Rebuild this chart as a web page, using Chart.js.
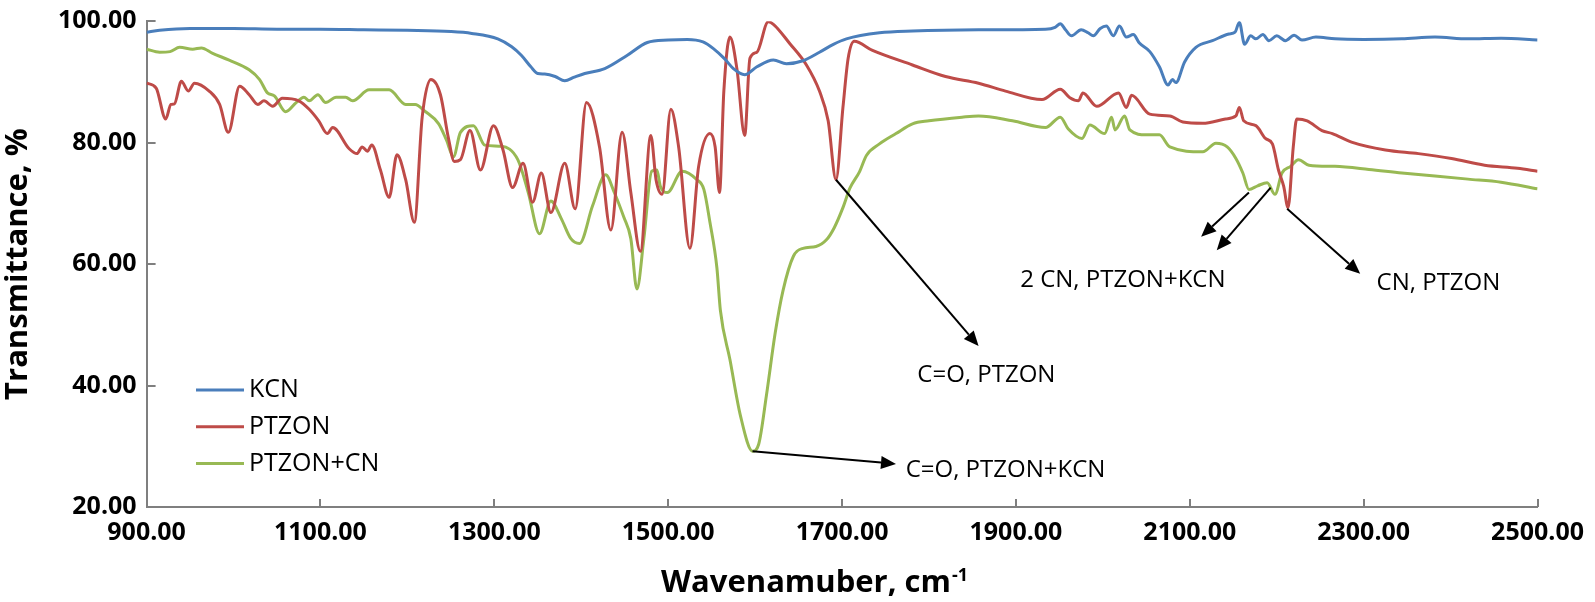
<!DOCTYPE html>
<html>
<head>
<meta charset="utf-8">
<script src="https://cdn.jsdelivr.net/npm/chart.js@4.4.0/dist/chart.umd.min.js"></script>
<style>
  html, body { margin: 0; padding: 0; background: #fff; }
</style>
</head>
<body>
<canvas id="chart" width="1595" height="602"></canvas>
<script>
// axis ticks
const xTicks = [900, 1100, 1300, 1500, 1700, 1900, 2100, 2300, 2500];
const xTickLabels = ['900.00', '1100.00', '1300.00', '1500.00', '1700.00', '1900.00', '2100.00', '2300.00', '2500.00'];
const yTicks = [20, 40, 60, 80, 100];
const yTickLabels = ['20.00', '40.00', '60.00', '80.00', '100.00'];

// KCN
const kcnWave = [900, 915, 950, 1000, 1050, 1100, 1150, 1200, 1250, 1274, 1304, 1320, 1331, 1342, 1350, 1358, 1370, 1381, 1392, 1404,
  1427, 1453, 1476, 1500, 1522, 1540, 1552, 1565, 1575, 1588, 1602, 1621, 1636, 1655, 1674, 1690, 1705, 1743, 1781, 1857,
  1934, 1945, 1951, 1957, 1964, 1975, 1983, 1989, 1997, 2004, 2012, 2019, 2027, 2035, 2042, 2054, 2065, 2075, 2080, 2084,
  2094, 2107, 2126, 2145, 2152, 2157, 2163, 2170, 2176, 2184, 2191, 2200, 2210, 2220, 2229, 2245, 2267, 2300, 2344, 2382,
  2420, 2458, 2500];
const kcnT = [98.2, 98.5, 98.8, 98.8, 98.7, 98.7, 98.6, 98.5, 98.3, 98.0, 97.1, 95.8, 94.4, 92.5, 91.4, 91.3, 90.9, 90.2, 90.8, 91.4,
  92.2, 94.4, 96.5, 96.9, 97.0, 96.6, 95.5, 93.8, 92.2, 91.2, 92.5, 93.6, 93.0, 93.5, 94.9, 96.2, 97.1, 98.1, 98.4, 98.6,
  98.7, 99.0, 99.6, 98.6, 97.6, 98.6, 98.1, 97.6, 98.8, 99.2, 97.6, 99.2, 97.4, 97.8, 96.4, 95.0, 92.5, 89.5, 90.4, 89.9,
  93.3, 95.7, 96.8, 97.9, 98.2, 99.8, 96.2, 97.6, 97.1, 97.8, 96.8, 97.6, 96.8, 97.7, 96.9, 97.4, 97.1, 97.0, 97.1, 97.4,
  97.1, 97.2, 96.9];

// PTZON
const ptzWave = [900, 911, 922, 928, 932, 940, 948, 955, 972, 984, 994, 1007, 1018, 1028, 1035, 1045, 1056, 1075, 1087, 1098,
  1108, 1114, 1133, 1142, 1148, 1154, 1159, 1169, 1179, 1188, 1198, 1208, 1217, 1227, 1238, 1247, 1254, 1261, 1272, 1284,
  1299, 1310, 1321, 1333, 1344, 1354, 1365, 1381, 1393, 1406, 1421, 1434, 1447, 1457, 1468, 1480, 1486, 1493, 1503, 1512,
  1525, 1535, 1548, 1554, 1559, 1564, 1571, 1579, 1588, 1594, 1602, 1615, 1621, 1640, 1659, 1674, 1684, 1693, 1701, 1707,
  1714, 1735, 1781, 1819, 1857, 1888, 1930, 1951, 1962, 1972, 1977, 1993, 2018, 2027, 2033, 2054, 2077, 2092, 2115, 2141,
  2153, 2157, 2162, 2176, 2187, 2195, 2202, 2208, 2213, 2219, 2223, 2235, 2252, 2264, 2286, 2325, 2363, 2401, 2439, 2477,
  2500];
const ptzT = [89.8, 89.0, 83.9, 86.3, 86.4, 90.1, 88.5, 89.8, 88.5, 86.3, 81.7, 89.3, 87.9, 86.3, 86.9, 86.0, 87.3, 86.9, 85.5, 83.6,
  81.5, 82.5, 79.0, 78.2, 79.3, 78.6, 79.6, 75.5, 71.0, 78.0, 73.9, 66.9, 84.2, 90.4, 87.9, 80.9, 76.9, 77.2, 82.0, 75.5,
  82.8, 78.8, 72.6, 76.6, 70.2, 75.0, 68.5, 76.6, 69.1, 86.6, 79.3, 65.6, 81.7, 71.8, 62.1, 81.2, 73.9, 71.5, 85.5, 79.3,
  62.6, 76.1, 81.5, 79.3, 71.8, 88.5, 97.4, 92.2, 81.2, 93.9, 94.9, 99.9, 99.5, 96.3, 92.8, 88.5, 83.6, 73.9, 85.8, 93.9,
  96.7, 95.2, 92.8, 90.9, 89.8, 88.5, 87.1, 88.8, 87.4, 86.9, 88.2, 86.0, 88.2, 85.8, 87.8, 84.7, 84.4, 83.4, 83.2, 83.9,
  84.4, 85.8, 83.6, 82.8, 80.7, 79.8, 75.5, 72.8, 69.3, 79.3, 83.9, 83.6, 82.0, 81.5, 80.1, 78.8, 78.2, 77.4, 76.3, 75.8,
  75.3];

// PTZON+CN
const mixWave = [900, 915, 927, 938, 953, 963, 976, 995, 1018, 1030, 1039, 1047, 1060, 1072, 1081, 1087, 1097, 1106, 1118, 1129,
  1137, 1156, 1179, 1198, 1209, 1220, 1236, 1245, 1253, 1261, 1276, 1289, 1308, 1327, 1339, 1352, 1365, 1377, 1388, 1398,
  1413, 1428, 1438, 1449, 1457, 1464, 1472, 1481, 1487, 1491, 1499, 1516, 1533, 1541, 1548, 1556, 1560, 1571, 1583, 1597,
  1604, 1613, 1623, 1632, 1644, 1655, 1670, 1682, 1691, 1701, 1709, 1720, 1728, 1743, 1762, 1781, 1800, 1838, 1857, 1896,
  1934, 1951, 1960, 1976, 1985, 2002, 2010, 2014, 2025, 2031, 2050, 2065, 2077, 2115, 2130, 2143, 2153, 2161, 2168, 2178,
  2189, 2198, 2206, 2216, 2225, 2237, 2267, 2306, 2344, 2382, 2420, 2458, 2500];
const mixT = [95.4, 94.9, 95.0, 95.7, 95.4, 95.6, 94.7, 93.6, 92.0, 90.4, 88.2, 87.7, 85.1, 86.6, 87.5, 86.9, 87.9, 86.6, 87.5, 87.5,
  86.9, 88.7, 88.7, 86.3, 86.3, 85.2, 83.1, 80.4, 77.7, 81.7, 82.8, 79.6, 79.4, 77.2, 71.8, 65.0, 70.4, 67.5, 64.2, 63.4,
  69.6, 74.7, 71.8, 67.7, 64.2, 55.9, 64.2, 75.3, 75.5, 72.8, 71.8, 75.3, 73.9, 72.3, 66.9, 59.4, 52.4, 44.3, 35.1, 29.2,
  30.3, 38.4, 48.6, 55.6, 61.3, 62.6, 62.9, 64.0, 66.0, 69.3, 72.5, 75.2, 77.9, 79.8, 81.5, 83.1, 83.6, 84.2, 84.4, 83.6,
  82.5, 84.2, 82.3, 80.7, 82.9, 81.5, 84.2, 82.1, 84.4, 82.1, 81.3, 81.3, 79.3, 78.5, 79.9, 79.3, 77.4, 75.0, 72.3, 72.9,
  73.4, 71.5, 75.0, 76.1, 77.2, 76.3, 76.1, 75.6, 75.0, 74.5, 74.0, 73.5, 72.4];

// annotations (wavenumber, transmittance)
const arrowFromW = [1693, 1597, 2168, 2193, 2212];
const arrowFromT = [73.9, 29.2, 71.8, 72.6, 69.1];
const arrowToW = [1857, 1762, 2113, 2131, 2296];
const arrowToT = [46.5, 27.1, 64.5, 62.3, 58.4];
const noteText = ['C=O, PTZON', 'C=O, PTZON+KCN', '2 CN, PTZON+KCN', 'CN, PTZON'];
const noteW = [1866, 1888, 2023, 2386];
const noteT = [41.7, 26.1, 57.3, 56.9];

const pts = (w, t) => w.map((x, i) => ({ x: x, y: t[i] }));

const decor = {
  id: 'decor',
  beforeDatasetsDraw(chart) {
    const { ctx, chartArea: a, scales: { x, y } } = chart;
    ctx.save();
    ctx.strokeStyle = '#7f7f7f';
    ctx.lineWidth = 2;
    xTicks.forEach(v => {
      const px = Math.round(x.getPixelForValue(v));
      ctx.beginPath(); ctx.moveTo(px, a.bottom); ctx.lineTo(px, a.bottom - 8); ctx.stroke();
    });
    yTicks.forEach(v => {
      const py = Math.round(y.getPixelForValue(v));
      ctx.beginPath(); ctx.moveTo(a.left, py); ctx.lineTo(a.left + 9, py); ctx.stroke();
    });
    ctx.restore();
  },
  afterDraw(chart) {
    const { ctx, chartArea: a, scales: { x, y } } = chart;
    ctx.save();

    // arrows
    ctx.strokeStyle = '#000';
    ctx.fillStyle = '#000';
    ctx.lineWidth = 2;
    arrowFromW.forEach((w, i) => {
      const x0 = x.getPixelForValue(w), y0 = y.getPixelForValue(arrowFromT[i]);
      const x1 = x.getPixelForValue(arrowToW[i]), y1 = y.getPixelForValue(arrowToT[i]);
      const ang = Math.atan2(y1 - y0, x1 - x0);
      const len = 15, half = 6.5;
      const bx = x1 - len * Math.cos(ang), by = y1 - len * Math.sin(ang);
      ctx.beginPath(); ctx.moveTo(x0, y0); ctx.lineTo(bx, by); ctx.stroke();
      ctx.beginPath();
      ctx.moveTo(x1, y1);
      ctx.lineTo(bx + half * Math.sin(ang), by - half * Math.cos(ang));
      ctx.lineTo(bx - half * Math.sin(ang), by + half * Math.cos(ang));
      ctx.closePath(); ctx.fill();
    });

    // notes
    ctx.font = '24px "Open Sans"';
    ctx.textAlign = 'center';
    ctx.textBaseline = 'middle';
    noteText.forEach((s, i) => {
      ctx.fillText(s, x.getPixelForValue(noteW[i]), y.getPixelForValue(noteT[i]));
    });

    // legend
    ctx.font = '25px "Open Sans"';
    ctx.textAlign = 'left';
    chart.data.datasets.forEach((ds, i) => {
      const ly = 390 + i * 36.7;
      ctx.strokeStyle = ds.borderColor;
      ctx.lineWidth = 3;
      ctx.beginPath(); ctx.moveTo(196, ly); ctx.lineTo(244, ly); ctx.stroke();
      ctx.fillStyle = '#000';
      ctx.fillText(ds.label, 249, ly);
    });

    // x axis title with superscript
    const main = 'Wavenamuber, cm', sup = '-1';
    ctx.font = 'bold 31px "Open Sans"';
    const mw = ctx.measureText(main).width;
    ctx.font = 'bold 18px "Open Sans"';
    const sw = ctx.measureText(sup).width;
    const sx = (a.left + a.right) / 2 - 28 - (mw + sw) / 2;
    ctx.textBaseline = 'alphabetic';
    ctx.font = 'bold 31px "Open Sans"';
    ctx.fillText(main, sx, 592);
    ctx.font = 'bold 18px "Open Sans"';
    ctx.fillText(sup, sx + mw + 1, 581);

    ctx.restore();
  }
};

new Chart(document.getElementById('chart').getContext('2d'), {
  type: 'line',
  data: {
    datasets: [
      { label: 'KCN', data: pts(kcnWave, kcnT), borderColor: '#4a7ebb' },
      { label: 'PTZON', data: pts(ptzWave, ptzT), borderColor: '#be4b48' },
      { label: 'PTZON+CN', data: pts(mixWave, mixT), borderColor: '#98b954' }
    ]
  },
  options: {
    responsive: false,
    animation: false,
    layout: { padding: { left: 0, top: 12, right: 50, bottom: 0 } },
    elements: {
      point: { radius: 0 },
      line: { borderWidth: 3, cubicInterpolationMode: 'monotone', fill: false }
    },
    plugins: {
      legend: { display: false },
      tooltip: { enabled: false }
    },
    scales: {
      x: {
        type: 'linear',
        min: 900,
        max: 2500,
        afterBuildTicks: s => { s.ticks = xTicks.map(v => ({ value: v })); },
        afterFit: s => { s.height = 95; },
        grid: { display: false, drawTicks: false },
        border: { display: true, color: '#7f7f7f', width: 2 },
        ticks: {
          padding: 11,
          maxRotation: 0,
          autoSkip: false,
          color: '#000',
          font: { family: 'Open Sans', size: 25, weight: 'bold' },
          callback: (v, i) => xTickLabels[i]
        }
      },
      y: {
        min: 20,
        max: 100,
        afterBuildTicks: s => { s.ticks = yTicks.map(v => ({ value: v })); },
        afterFit: s => { s.width = 146.6; },
        grid: { display: false, drawTicks: false },
        border: { display: true, color: '#7f7f7f', width: 2 },
        title: {
          display: true,
          text: 'Transmittance, %',
          color: '#000',
          padding: 0,
          font: { family: 'Open Sans', size: 31, weight: 'bold' }
        },
        ticks: {
          padding: 10,
          color: '#000',
          font: { family: 'Open Sans', size: 25, weight: 'bold', lineHeight: 0.9 },
          callback: (v, i) => yTickLabels[i]
        }
      }
    }
  },
  plugins: [decor]
});
</script>
</body>
</html>
